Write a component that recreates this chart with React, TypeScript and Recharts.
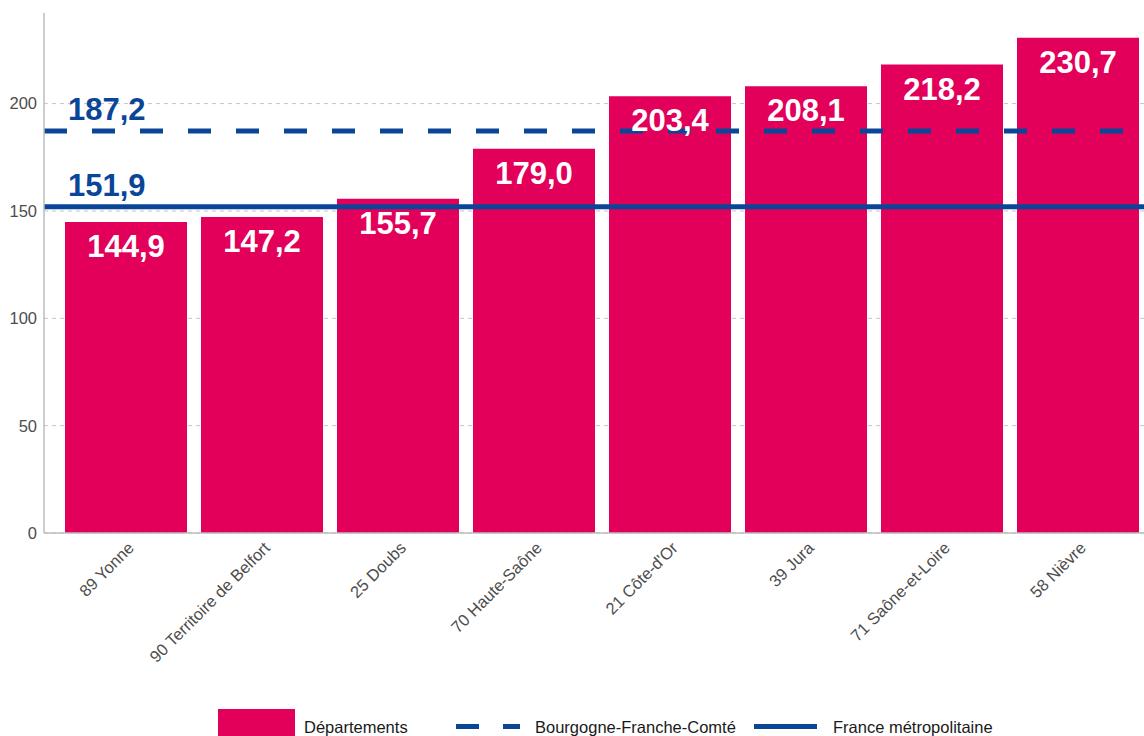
import React from "react";
import {
  BarChart,
  Bar,
  XAxis,
  YAxis,
  CartesianGrid,
  ReferenceLine,
  LabelList,
} from "recharts";

const departements = [
  "89 Yonne",
  "90 Territoire de Belfort",
  "25 Doubs",
  "70 Haute-Saône",
  "21 Côte-d'Or",
  "39 Jura",
  "71 Saône-et-Loire",
  "58 Nièvre",
];
const valeurs = [144.9, 147.2, 155.7, 179.0, 203.4, 208.1, 218.2, 230.7];
const yTicks = [0, 50, 100, 150, 200];
const valeurBFC = 187.2;
const valeurFrance = 151.9;

const PINK = "#e3005a";
const BLUE = "#0a4698";
const GREY = "#4d4d4d";
const FONT = "'Liberation Sans', Arial, sans-serif";

const data = departements.map((dep, i) => ({ dep, value: valeurs[i] }));

// virgule décimale à la française
const fmt = (v: number) => v.toFixed(1).replace(".", ",");

const XTick = (props: any) => {
  const { x, y, payload } = props;
  return (
    <g transform={`translate(${x + 9},${y + 16})`}>
      <text
        textAnchor="end"
        transform="rotate(-45)"
        fill={GREY}
        fontSize={16.5}
        fontFamily={FONT}
      >
        {payload.value}
      </text>
    </g>
  );
};

const BarValue = (props: any) => {
  const { x, y, width, value } = props;
  return (
    <text
      x={x + width / 2}
      y={y + 35}
      textAnchor="middle"
      fill="#fff"
      fontWeight="bold"
      fontSize={31}
      fontFamily={FONT}
    >
      {fmt(value)}
    </text>
  );
};

const refLabel = (text: string) => (props: any) => {
  const { viewBox } = props;
  return (
    <text
      x={viewBox.x + 24}
      y={viewBox.y - 11}
      fill={BLUE}
      fontWeight="bold"
      fontSize={31}
      fontFamily={FONT}
    >
      {text}
    </text>
  );
};

const Legende = () => (
  <svg
    width={1144}
    height={736}
    style={{ position: "absolute", left: 0, top: 0, pointerEvents: "none" }}
  >
    <rect x={218} y={709} width={77} height={40} fill={PINK} />
    <text x={304} y={733} fontSize={16.5} fill="#1a1a1a" fontFamily={FONT}>
      Départements
    </text>
    <line
      x1={456}
      x2={520}
      y1={726.5}
      y2={726.5}
      stroke={BLUE}
      strokeWidth={5}
      strokeDasharray="23 24"
    />
    <text x={535} y={733} fontSize={16.5} fill="#1a1a1a" fontFamily={FONT}>
      Bourgogne-Franche-Comté
    </text>
    <line x1={754} x2={817} y1={726.5} y2={726.5} stroke={BLUE} strokeWidth={5} />
    <text x={833} y={733} fontSize={16.5} fill="#1a1a1a" fontFamily={FONT}>
      France métropolitaine
    </text>
  </svg>
);

export default function App() {
  return (
    <div
      style={{
        position: "fixed",
        left: 0,
        top: 0,
        width: 1144,
        height: 736,
        overflow: "hidden",
        background: "#fff",
      }}
    >
      <BarChart
        width={1170}
        height={736}
        data={data}
        margin={{ top: 13, right: 10, bottom: 0, left: 0 }}
      >
        <CartesianGrid
          vertical={false}
          horizontalValues={yTicks}
          stroke="#c4c4c4"
          strokeDasharray="4 4"
        />
        <XAxis
          dataKey="dep"
          height={203}
          interval={0}
          padding={{ left: 14, right: 14 }}
          tickLine={false}
          tickSize={0}
          tickMargin={0}
          axisLine={{ stroke: "#bdbdbd", strokeWidth: 1.5 }}
          tick={<XTick />}
        />
        <XAxis xAxisId="lbl" dataKey="dep" hide padding={{ left: 14, right: 14 }} />
        <YAxis
          width={44}
          domain={[0, 242.2]}
          ticks={yTicks}
          tickLine={false}
          tickSize={0}
          tickMargin={7}
          axisLine={{ stroke: "#bdbdbd", strokeWidth: 1.5 }}
          tick={{ fill: GREY, fontSize: 16.5, fontFamily: FONT }}
        />
        <Bar dataKey="value" fill={PINK} barSize={122} isAnimationActive={false} />
        <ReferenceLine
          y={valeurBFC}
          stroke={BLUE}
          strokeWidth={5}
          strokeDasharray="23 25"
          label={refLabel(fmt(valeurBFC))}
        />
        <ReferenceLine
          y={valeurFrance}
          stroke={BLUE}
          strokeWidth={5}
          label={refLabel(fmt(valeurFrance))}
        />
        <Bar
          xAxisId="lbl"
          dataKey="value"
          fill="transparent"
          barSize={122}
          isAnimationActive={false}
        >
          <LabelList dataKey="value" content={<BarValue />} />
        </Bar>
      </BarChart>
      <Legende />
    </div>
  );
}
